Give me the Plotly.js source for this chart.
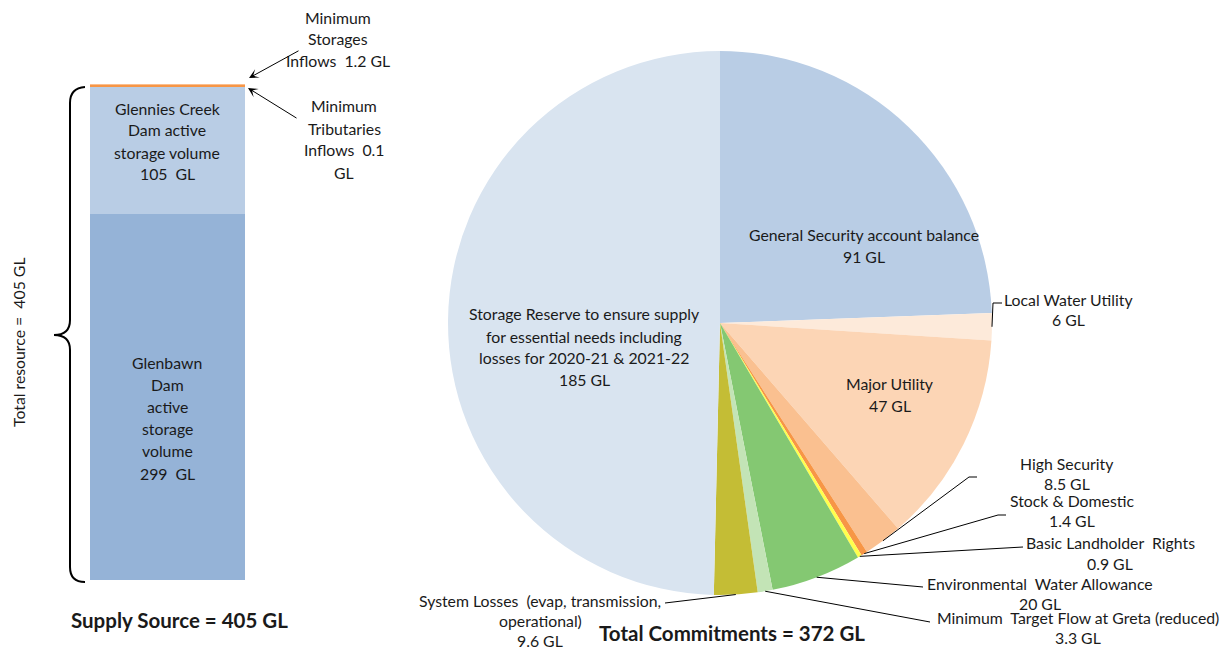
<!DOCTYPE html>
<html>
<head>
<meta charset="utf-8">
<script src="https://cdn.plot.ly/plotly-3.0.1.min.js"></script>
<style>html,body{margin:0;padding:0;background:#fff;}#chart{width:1222px;height:647px;}</style>
</head>
<body>
<div id="chart"></div>
<script>
// ---- data ----
const supplyLabels = ['Glenbawn Dam active storage volume', 'Glennies Creek Dam active storage volume', 'Minimum Tributaries Inflows', 'Minimum Storages Inflows'];
const supplyValues = [299, 105, 0.1, 1.2];
const supplyColors = ['#95B3D7', '#B9CDE5', '#F79646', '#FCD5B5'];

const commitLabels = ['General Security account balance', 'Local Water Utility', 'Major Utility', 'High Security', 'Stock & Domestic', 'Basic Landholder Rights', 'Environmental Water Allowance', 'Minimum Target Flow at Greta (reduced)', 'System Losses (evap, transmission, operational)', 'Storage Reserve to ensure supply for essential needs including losses for 2020-21 & 2021-22'];
const commitValues = [91, 6, 47, 8.5, 1.4, 0.9, 20, 3.3, 9.6, 185];
const commitColors = ['#B9CDE5', '#FDEADA', '#FCD5B5', '#FAC090', '#F79646', '#FFFF4D', '#84C872', '#C3E4B6', '#C4BD35', '#D9E4F0'];

// ---- layout helpers ----
const W = 1222, H = 647;
const X = px => px / W, Y = py => 1 - py / H;
const FONT = 'Lato, "Open Sans", sans-serif';
const TXT = '#1a1a1a';
const FS = 15.8;

const annotations = [];
const shapes = [];

function label(lines, cx, ys, opts) {
  opts = opts || {};
  lines.forEach((t, i) => {
    annotations.push({
      xref: 'paper', yref: 'paper', x: X(cx), y: Y(ys[i]),
      xanchor: 'center', yanchor: 'middle', showarrow: false,
      text: t, textangle: opts.angle || 0,
      font: {family: FONT, size: opts.size || FS, color: TXT}
    });
  });
}
function poly(pts) {
  let d = 'M ' + pts.map(p => X(p[0]) + ',' + Y(p[1])).join(' L ');
  shapes.push({type: 'path', xref: 'paper', yref: 'paper', path: d, line: {color: '#000', width: 1}});
}

// ---- bar (supply) ----
const lineW = [0, 0, 0, 2.5];
const barTraces = supplyValues.map((v, i) => ({
  type: 'bar', x: ['Supply'], y: [v], name: supplyLabels[i],
  marker: {color: supplyColors[i], line: {color: supplyColors[i], width: lineW[i]}},
  xaxis: 'x', yaxis: 'y', hoverinfo: 'none', showlegend: false
}));
// the 0.1 GL segment is thinner than a pixel: emphasise it with a line on the axis scale
const tribMid = supplyValues[0] + supplyValues[1] + supplyValues[2] / 2;
shapes.push({type: 'line', xref: 'x', yref: 'y', x0: -0.5, x1: 0.5, y0: tribMid, y1: tribMid,
  line: {color: supplyColors[2], width: 2.5}});

// ---- pie (commitments) ----
const CX = 720, CY = 323, R = 272;
const pieTrace = {
  type: 'pie', labels: commitLabels, values: commitValues, sort: false,
  direction: 'clockwise', rotation: 0, textinfo: 'none', hoverinfo: 'none',
  marker: {colors: commitColors, line: {width: 0}},
  domain: {x: [X(CX - R), X(CX + R)], y: [Y(CY + R), Y(CY - R)]},
  showlegend: false
};

// slice mid-angles from data
const total = commitValues.reduce((a, b) => a + b, 0);
let cum = 0;
const midAng = commitValues.map(v => { const a = (cum + v / 2) / total * 360; cum += v; return a; });
function edge(i) {
  const a = midAng[i] * Math.PI / 180;
  return [CX + R * Math.sin(a), CY - R * Math.cos(a)];
}

// leader lines
poly([edge(1), [993, 303], [1002, 303]]);
poly([edge(3), [969, 477], [977, 477]]);
poly([edge(4), [998, 515], [1006, 515]]);
poly([edge(5), [1023, 547]]);
poly([edge(6), [923, 587]]);
poly([edge(7), [930, 622]]);
poly([edge(8), [665, 603]]);

// pie labels
label(['General Security account balance', '91 GL'], 864, [235, 256]);
label(['Local Water Utility', '6 GL'], 1068, [299, 320]);
label(['Major Utility', '47 GL'], 890, [383, 405]);
label(['Storage Reserve to ensure supply', 'for essential needs including', 'losses for 2020-21 & 2021-22', '185 GL'], 584, [314, 336, 357, 379]);
label(['High Security', '8.5 GL'], 1067, [463, 483]);
label(['Stock & Domestic', '1.4 GL'], 1072, [500, 520]);
label(['Basic Landholder  Rights', '0.9 GL'], 1110, [542, 563]);
label(['Environmental  Water Allowance', '20 GL'], 1040, [583, 603]);
label(['Minimum  Target Flow at Greta (reduced)', '3.3 GL'], 1078, [617, 637]);
label(['System Losses  (evap, transmission,', 'operational)', '9.6 GL'], 540, [600, 620, 640]);

// bar labels
label(['Minimum', 'Storages', 'Inflows  1.2 GL'], 338, [17, 39, 60]);
label(['Minimum', 'Tributaries', 'Inflows  0.1', 'GL'], 344, [106, 128, 150, 172]);
label(['Glennies Creek', 'Dam active', 'storage volume', '105  GL'], 167, [108, 130, 152, 173]);
label(['Glenbawn', 'Dam', 'active', 'storage', 'volume', '299  GL'], 167, [362, 384, 406, 428, 450, 473]);
label(['Total resource =  405 GL'], 18, [342], {angle: -90});

// bold titles
label(['<b>Supply Source = 405 GL</b>'], 179, [620], {size: 20.5});
label(['<b>Total Commitments = 372 GL</b>'], 732, [633], {size: 20.5});

// arrows
annotations.push({xref: 'paper', yref: 'paper', x: X(249), y: Y(78), ax: 300 - 249, ay: 50 - 78, axref: 'pixel', ayref: 'pixel', text: '', showarrow: true, arrowhead: 3, arrowsize: 1.6, arrowwidth: 1, arrowcolor: '#000'});
annotations.push({xref: 'paper', yref: 'paper', x: X(248), y: Y(88), ax: 298 - 248, ay: 119 - 88, axref: 'pixel', ayref: 'pixel', text: '', showarrow: true, arrowhead: 3, arrowsize: 1.6, arrowwidth: 1, arrowcolor: '#000'});

// brace
const P = (x, y) => X(x) + ',' + Y(y);
shapes.push({
  type: 'path', xref: 'paper', yref: 'paper', line: {color: '#000', width: 2},
  path: 'M ' + P(85, 87) + ' Q ' + P(70, 88) + ' ' + P(70, 103) + ' L ' + P(70, 320) +
        ' Q ' + P(70, 335) + ' ' + P(54, 335) + ' Q ' + P(70, 335) + ' ' + P(70, 350) +
        ' L ' + P(70, 567) + ' Q ' + P(70, 582) + ' ' + P(85, 582)
});

const layout = {
  width: W, height: H, margin: {l: 0, r: 0, t: 0, b: 0},
  paper_bgcolor: '#fff', plot_bgcolor: 'rgba(0,0,0,0)',
  barmode: 'stack', bargap: 0,
  xaxis: {domain: [X(90), X(245)], range: [-0.5, 0.5], visible: false, fixedrange: true},
  yaxis: {domain: [Y(580), Y(84.16)], range: [0, 405.3], visible: false, fixedrange: true},
  showlegend: false, hovermode: false,
  font: {family: FONT, color: TXT},
  annotations: annotations, shapes: shapes
};

Plotly.newPlot('chart', barTraces.concat([pieTrace]), layout, {staticPlot: true, displayModeBar: false});
</script>
</body>
</html>
